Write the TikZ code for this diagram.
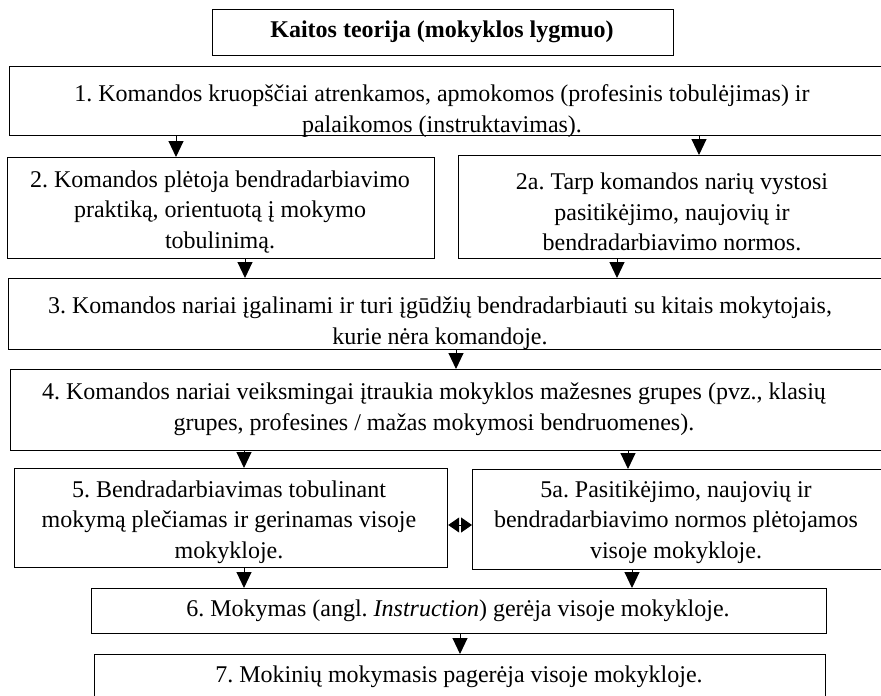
\documentclass[tikz,border=0pt]{standalone}
\usepackage{fontspec}
\setmainfont{Liberation Serif}
\usetikzlibrary{arrows.meta}
\frenchspacing
\begin{document}
\begin{tikzpicture}[x=1pt,y=-1pt,
  box/.style={draw=black, line width=1.2pt, rectangle, inner sep=0pt, anchor=north west, fill=white},
  txt/.style={align=center, inner sep=0pt, font=\fontsize{24}{30.5}\selectfont},
  arr/.style={line width=1pt, -{Triangle[length=16pt,width=15pt]}},
  darr/.style={line width=1pt, {Triangle[length=11pt,width=15pt]}-{Triangle[length=11pt,width=15pt]}}
]
\useasboundingbox (0,0) rectangle (881,696);
\fill[white] (0,0) rectangle (881,696);

% boxes
\node[box, minimum width=461pt, minimum height=46pt] (t) at (212,9) {};
\node[box, minimum width=880pt, minimum height=69pt] (b1) at (9,66) {};
\node[box, minimum width=427pt, minimum height=101pt] (b2) at (7,157) {};
\node[box, minimum width=430pt, minimum height=103pt] (b2a) at (458,155) {};
\node[box, minimum width=880pt, minimum height=71pt] (b3) at (8,278) {};
\node[box, minimum width=880pt, minimum height=81pt] (b4) at (10,369) {};
\node[box, minimum width=433pt, minimum height=99pt] (b5) at (14,468) {};
\node[box, minimum width=420pt, minimum height=100pt] (b5a) at (472,469) {};
\node[box, minimum width=735pt, minimum height=45pt] (b6) at (91,588) {};
\node[box, minimum width=731pt, minimum height=50pt] (b7) at (94,654) {};

% texts
\node[txt] (tt) at (442,32) {\bfseries Kaitos teorija (mokyklos lygmuo)};
\begin{scope}
  \clip (b1.north west) rectangle (b1.south east);
  \node[txt] (t1) at (442,111) {1. Komandos kruopščiai atrenkamos, apmokomos (profesinis tobulėjimas) ir\\palaikomos (instruktavimas).};
\end{scope}
\node[txt] (t2) at (220,212) {2. Komandos plėtoja bendradarbiavimo\\praktiką, orientuotą į mokymo\\tobulinimą.};
\node[txt] (t2a) at (672,212) {2a. Tarp komandos narių vystosi\\pasitikėjimo, naujovių ir\\bendradarbiavimo normos.};
\begin{scope}
  \clip (b3.north west) rectangle (b3.south east);
  \node[txt] (t3) at (440,323) {3. Komandos nariai įgalinami ir turi įgūdžių bendradarbiauti su kitais mokytojais,\\kurie nėra komandoje.};
\end{scope}
\node[txt] (t4) at (434,409) {4. Komandos nariai veiksmingai įtraukia mokyklos mažesnes grupes (pvz., klasių\\grupes, profesines / mažas mokymosi bendruomenes).};
\node[txt] (t5) at (229,522) {5. Bendradarbiavimas tobulinant\\mokymą plečiamas ir gerinamas visoje\\mokykloje.};
\node[txt] (t5a) at (676,522) {5a. Pasitikėjimo, naujovių ir\\bendradarbiavimo normos plėtojamos\\visoje mokykloje.};
\node[txt] (t6) at (458,611) {6. Mokymas (angl. \textit{Instruction}) gerėja visoje mokykloje.};
\node[txt] (t7) at (459,677) {7. Mokinių mokymasis pagerėja visoje mokykloje.};

% connectors
\draw[arr] (b1.south -| 176,0) -- (b2.north -| 176,0);
\draw[arr] (b1.south -| 699,0) -- (b2a.north -| 699,0);
\draw[arr] (b2.south -| 245,0) -- (b3.north -| 245,0);
\draw[arr] (b2a.south -| 617,0) -- (b3.north -| 617,0);
\draw[arr] (b3.south -| 456,0) -- (b4.north -| 456,0);
\draw[arr] (b4.south -| 244,0) -- (b5.north -| 244,0);
\draw[arr] (b4.south -| 628,0) -- (b5a.north -| 628,0);
\draw[arr] (b5.south -| 244,0) -- (b6.north -| 244,0);
\draw[arr] (b5a.south -| 632,0) -- (b6.north -| 632,0);
\draw[arr] (b6.south -| 460,0) -- (b7.north -| 460,0);
\draw[darr] (b5.east |- 0,525) -- (b5a.west |- 0,525);
\end{tikzpicture}
\end{document}
